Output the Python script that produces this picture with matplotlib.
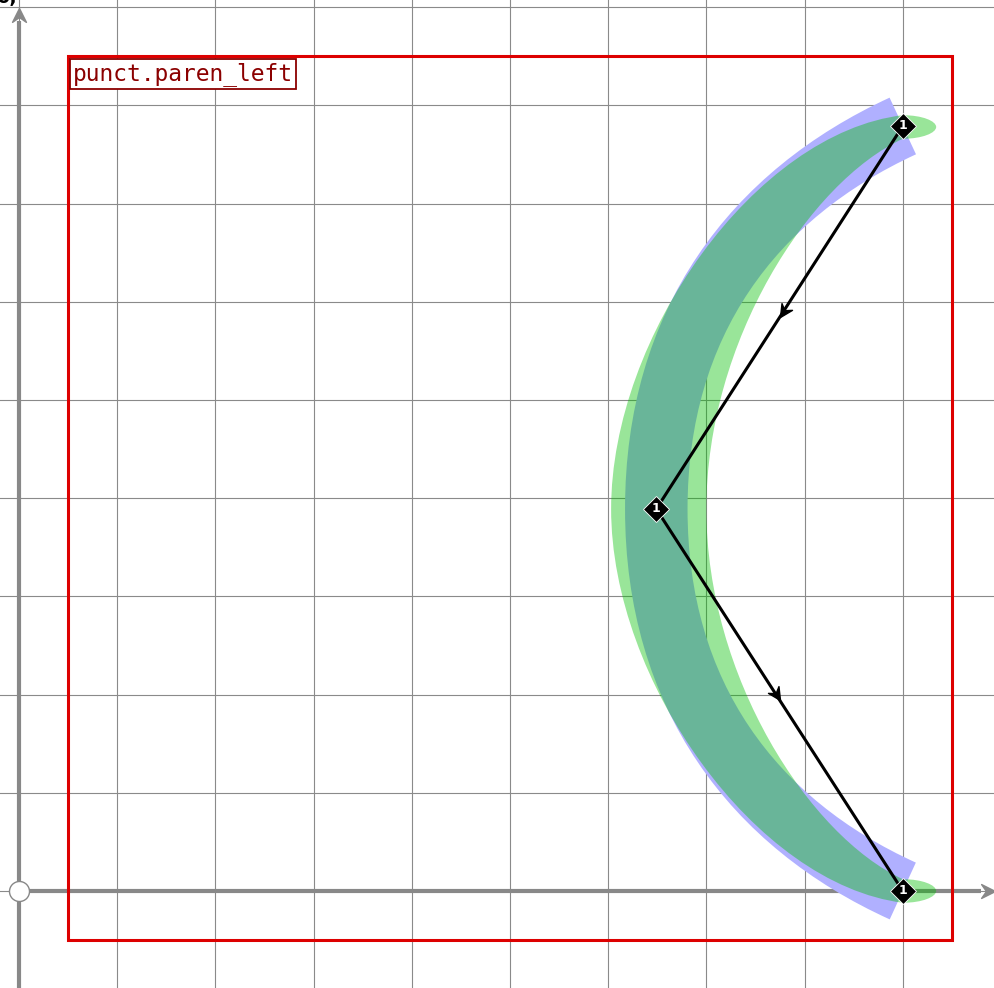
import numpy as np
import matplotlib
matplotlib.use("Agg")
import matplotlib.pyplot as plt
from matplotlib.path import Path
from matplotlib.patches import PathPatch, Rectangle
from matplotlib.markers import MarkerStyle
from matplotlib.transforms import Affine2D

# glyph data (font units / 100)
glyph_name = "punct.paren_left"
point_labels = ["1", "1", "1"]

# on-curve skeleton points
skel_x = [9.0, 6.49, 9.0]
skel_y = [7.79, 3.89, 0.0]

# skeleton stroke as cubic bezier control points
stroke_x = [9.0, 7.48, 6.49, 6.49, 6.49, 7.48, 9.0]
stroke_y = [7.79, 7.09, 5.79, 3.89, 1.99, 0.69, 0.0]

# filled outline, cubic bezier control points (start + 3 per segment)
outline_x = [6.03,
             6.03, 7.5, 9.0,
             9.2, 9.34, 9.34,
             9.34, 9.2, 9.0,
             8.05, 7.0, 7.0,
             7.0, 8.05, 9.0,
             9.2, 9.34, 9.34,
             9.34, 9.2, 9.0,
             7.5, 6.03, 6.03]
outline_y = [3.89,
             5.65, 7.72, 7.9,
             7.9, 7.84, 7.78,
             7.72, 7.66, 7.66,
             7.22, 5.6, 3.89,
             2.18, 0.56, 0.12,
             0.12, 0.06, 0.0,
             -0.06, -0.12, -0.12,
             0.07, 2.14, 3.89]

grid_x = list(range(0, 11))
grid_y = list(range(0, 10))
bbox_x = [0.5, 9.5]
bbox_y = [-0.5, 8.5]

fig = plt.figure(figsize=(9.95, 9.88), dpi=100)
ax = fig.add_axes([0, 0, 1, 1])
ax.set_xlim(-0.193, 9.939)
ax.set_ylim(-0.988, 9.073)
ax.axis("off")

for gx in grid_x:
    ax.axvline(gx, color="#8a8a8a", lw=0.8, zorder=1)
for gy in grid_y:
    ax.axhline(gy, color="#8a8a8a", lw=0.8, zorder=1)

# concave arrow head marker, tip at origin
head = Path([(0, 0), (-1, 0.5), (-0.65, 0), (-1, -0.5), (0, 0)],
            [Path.MOVETO, Path.LINETO, Path.LINETO, Path.LINETO, Path.CLOSEPOLY])


def arrow_head(x, y, angle, size, color, z):
    m = MarkerStyle(head, transform=Affine2D().rotate_deg(angle))
    ax.plot([x], [y], marker=m, ms=size, color=color, mec=color, ls="none", zorder=z)


# axes with arrows
axis_col = "#888888"
ax.plot([0, 9.8], [0, 0], color=axis_col, lw=3, zorder=2, solid_capstyle="butt")
ax.plot([0, 0], [-0.988, 8.86], color=axis_col, lw=3, zorder=2, solid_capstyle="butt")
arrow_head(9.94, 0, 0, 20, axis_col, 2)
arrow_head(0, 8.99, 90, 20, axis_col, 2)
ax.plot([0], [0], "o", ms=14.4, mfc="white", mec=axis_col, mew=1, zorder=3)

ax.add_patch(Rectangle((bbox_x[0], bbox_y[0]), bbox_x[1] - bbox_x[0], bbox_y[1] - bbox_y[0],
                       fill=False, ec="#dd0000", lw=2.2, zorder=3))

# stroke
codes = [Path.MOVETO] + [Path.CURVE4] * (len(stroke_x) - 1)
ax.add_patch(PathPatch(Path(np.column_stack([stroke_x, stroke_y]), codes),
                       fill=False, ec="#b0b0ff", lw=45, capstyle="butt", zorder=4))

# outline fill
codes = [Path.MOVETO] + [Path.CURVE4] * (len(outline_x) - 1)
ax.add_patch(PathPatch(Path(np.column_stack([outline_x, outline_y]), codes),
                       fc=(0.0, 0.75, 0.0, 0.4), ec="none", zorder=5))

# skeleton polyline with direction arrows
ax.plot(skel_x, skel_y, color="black", lw=2.2, zorder=6)
for i in range(len(skel_x) - 1):
    mx = (skel_x[i] + skel_x[i + 1]) / 2
    my = (skel_y[i] + skel_y[i + 1]) / 2
    ang = np.degrees(np.arctan2(skel_y[i + 1] - skel_y[i], skel_x[i + 1] - skel_x[i]))
    arrow_head(mx, my, ang, 18, "black", 6)

ax.plot(skel_x, skel_y, "D", ms=13, color="black", mec="white", mew=0.6, ls="none", zorder=7)
for x, y, lab in zip(skel_x, skel_y, point_labels):
    ax.text(x, y, lab, color="white", fontsize=9, fontweight="bold",
            ha="center", va="center", zorder=8)

ax.text(0.55, 8.315, glyph_name, family="DejaVu Sans Mono", fontsize=16.5, color="#8b0000",
        ha="left", va="center", zorder=9,
        bbox=dict(boxstyle="square,pad=0.13", fc="white", ec="#8b0000", lw=1.3))

ax.text(-0.02, 9.04, "0,", ha="right", va="baseline", fontsize=14, fontweight="bold")

fig.savefig("out.png", dpi=100)
